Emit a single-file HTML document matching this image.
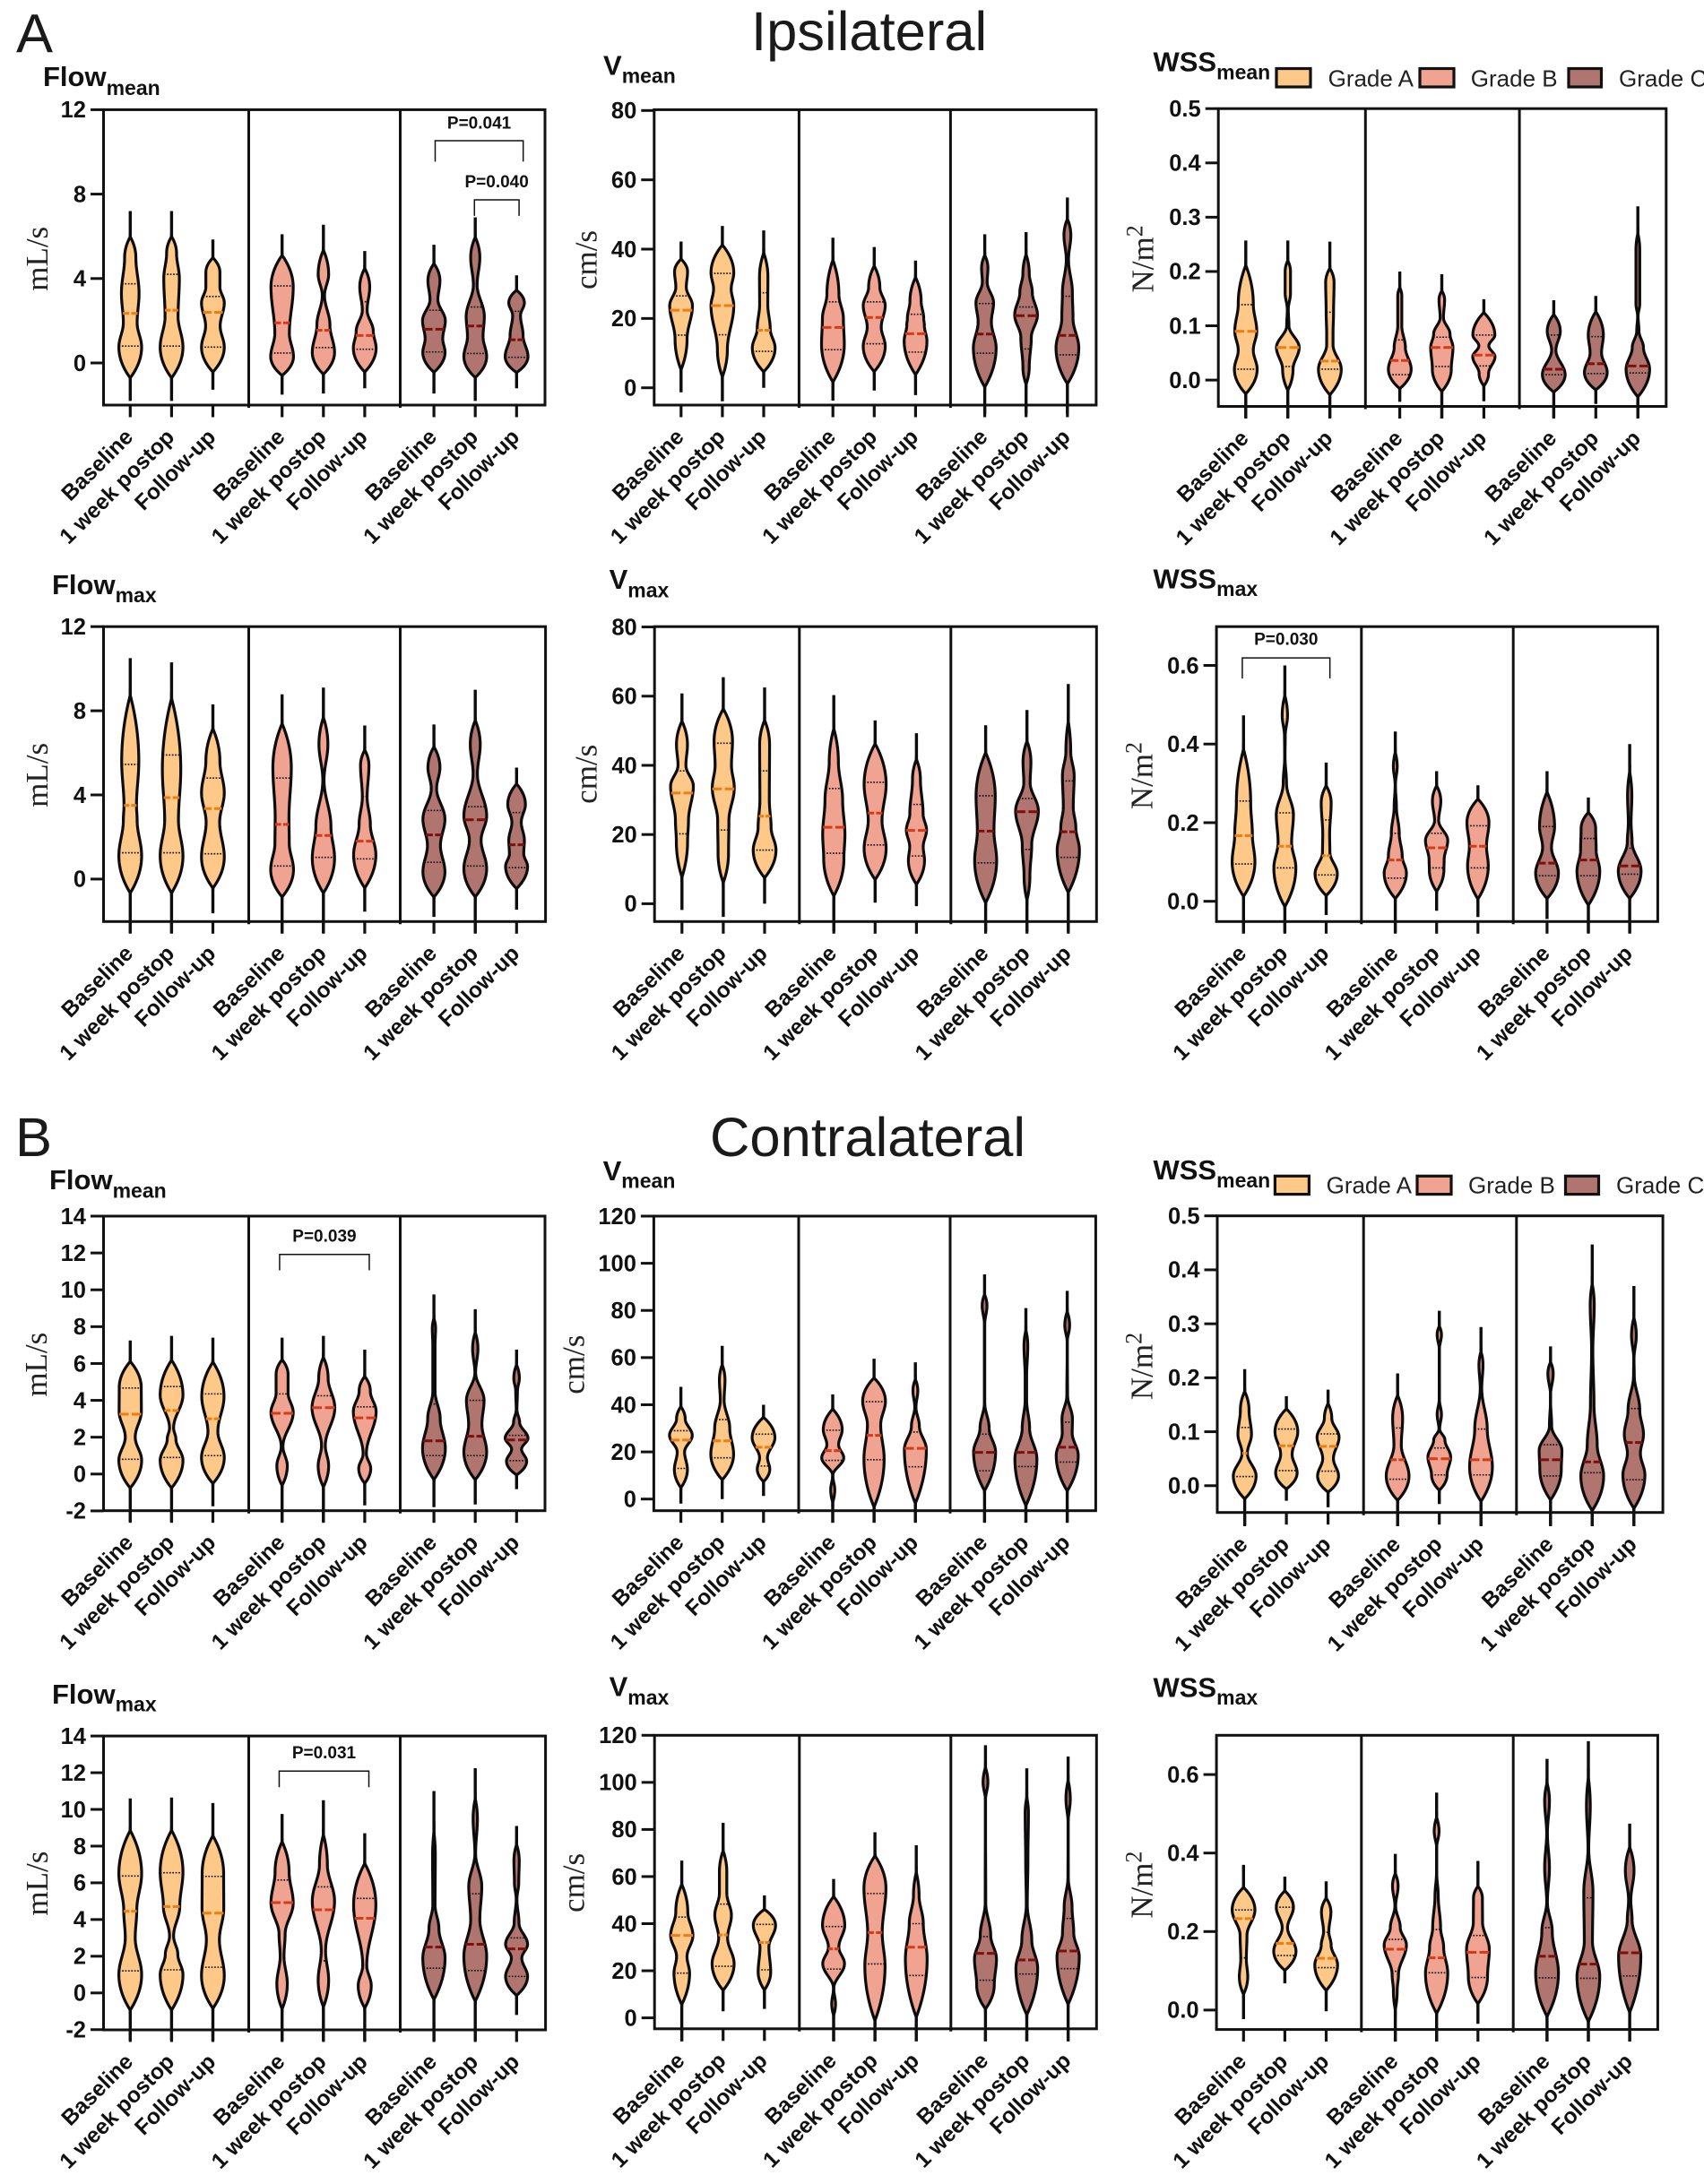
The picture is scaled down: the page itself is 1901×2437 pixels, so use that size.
<!DOCTYPE html>
<html lang="en">
<head>
<meta charset="utf-8">
<title>Ipsilateral and contralateral flow, velocity and WSS violin plots</title>
<style>
html,body{margin:0;padding:0;background:#fff;}
svg{display:block;}
text{font-family:"Liberation Sans",Arial,sans-serif;fill:#111;}
.serif{font-family:"Liberation Serif","Times New Roman",serif;font-size:35px;fill:#222;}
.big{font-size:61.5px;fill:#1a1a1a;}
.ttl{font-size:31px;font-weight:bold;}
.sub{font-size:23px;font-weight:bold;}
.leg{font-size:26px;fill:#222;}
</style>
</head>
<body>
<svg id="fig" width="1901" height="2437" viewBox="0 0 1901 2437" xmlns="http://www.w3.org/2000/svg">
<rect x="0" y="0" width="1901" height="2437" fill="#fff"/>
<text class="big" x="18" y="58.4">A</text>
<text class="big" x="838" y="56">Ipsilateral</text>
<text class="big" x="17" y="1290">B</text>
<text class="big" x="792" y="1290">Contralateral</text>

<text class="ttl" x="48" y="96">Flow<tspan class="sub" dy="10">mean</tspan></text>
<text class="ttl" x="673" y="83.7">V<tspan class="sub" dy="9">mean</tspan></text>
<text class="ttl" x="1286.5" y="79.6">WSS<tspan class="sub" dy="9">mean</tspan></text>
<text class="ttl" x="58" y="662.9">Flow<tspan class="sub" dy="9">max</tspan></text>
<text class="ttl" x="679.6" y="657.1">V<tspan class="sub" dy="9.6">max</tspan></text>
<text class="ttl" x="1286.5" y="656.4">WSS<tspan class="sub" dy="8.8">max</tspan></text>
<text class="ttl" x="55" y="1326.8">Flow<tspan class="sub" dy="9.6">mean</tspan></text>
<text class="ttl" x="672.6" y="1317.2">V<tspan class="sub" dy="8.5">mean</tspan></text>
<text class="ttl" x="1286.5" y="1316.1">WSS<tspan class="sub" dy="8.8">mean</tspan></text>
<text class="ttl" x="58" y="1900.9">Flow<tspan class="sub" dy="8.8">max</tspan></text>
<text class="ttl" x="679.6" y="1892.6">V<tspan class="sub" dy="9.5">max</tspan></text>
<text class="ttl" x="1286.5" y="1893.3">WSS<tspan class="sub" dy="8.8">max</tspan></text>

<text class="serif" text-anchor="middle" transform="translate(53 288.8) rotate(-90)">mL/s</text>
<text class="serif" text-anchor="middle" transform="translate(665.7 290) rotate(-90)">cm/s</text>
<text class="serif" transform="translate(1286.5 326.5) rotate(-90)">N/m<tspan font-size="26" dy="-12">2</tspan></text>
<text class="serif" text-anchor="middle" transform="translate(53 864.9) rotate(-90)">mL/s</text>
<text class="serif" text-anchor="middle" transform="translate(665.7 863.8) rotate(-90)">cm/s</text>
<text class="serif" transform="translate(1285.3 903.2) rotate(-90)">N/m<tspan font-size="26" dy="-12">2</tspan></text>
<text class="serif" text-anchor="middle" transform="translate(52 1522.7) rotate(-90)">mL/s</text>
<text class="serif" text-anchor="middle" transform="translate(651.4 1522.7) rotate(-90)">cm/s</text>
<text class="serif" transform="translate(1285.7 1562.1) rotate(-90)">N/m<tspan font-size="26" dy="-12">2</tspan></text>
<text class="serif" text-anchor="middle" transform="translate(53 2101.6) rotate(-90)">mL/s</text>
<text class="serif" text-anchor="middle" transform="translate(651.4 2100.9) rotate(-90)">cm/s</text>
<text class="serif" transform="translate(1285.7 2140.8) rotate(-90)">N/m<tspan font-size="26" dy="-12">2</tspan></text>

<g>
<rect x="1424" y="76.5" width="38" height="20.5" fill="#fdc888" stroke="#111" stroke-width="3.2"/>
<text class="leg" x="1481.6" y="96.3">Grade A</text>
<rect x="1584" y="76.5" width="38" height="20.5" fill="#f0a390" stroke="#111" stroke-width="3.2"/>
<text class="leg" x="1640.8" y="96.3">Grade B</text>
<rect x="1750" y="76.5" width="36.5" height="20.5" fill="#b17570" stroke="#111" stroke-width="3.2"/>
<text class="leg" x="1806" y="96.3">Grade C</text>
</g>
<g>
<rect x="1422.4" y="1312.3" width="38" height="20.3" fill="#fdc888" stroke="#111" stroke-width="3.2"/>
<text class="leg" x="1479.6" y="1331.4">Grade A</text>
<rect x="1581" y="1312.3" width="38" height="20.3" fill="#f0a390" stroke="#111" stroke-width="3.2"/>
<text class="leg" x="1638" y="1331.4">Grade B</text>
<rect x="1746.5" y="1312.3" width="37" height="20.3" fill="#b17570" stroke="#111" stroke-width="3.2"/>
<text class="leg" x="1803" y="1331.4">Grade C</text>
</g>
</svg>

<script>
// Shared categories and axis tick labels
const timepoints = ['Baseline', '1 week postop', 'Follow-up'];
const gradeFills = ['#fdc888', '#f0a390', '#b17570'];
const gradeMedians = ['#f07d10', '#d63b17', '#7d0f0f'];
const flowTicksIpsi = ['0', '4', '8', '12'];
const velocityTicksIpsi = ['0', '20', '40', '60', '80'];
const wssMeanTicks = ['0.0', '0.1', '0.2', '0.3', '0.4', '0.5'];
const wssMaxTicks = ['0.0', '0.2', '0.4', '0.6'];
const flowTicksContra = ['-2', '0', '2', '4', '6', '8', '10', '12', '14'];
const velocityTicksContra = ['0', '20', '40', '60', '80', '100', '120'];

// Each panel: nine violins (3 grades x 3 timepoints). Shape = [value, relative density] knots.
const ipsiFlowMeanLow = [-1.8, -1.8, -1.27, -1.5, -1.45, -1.2, -1.45, -1.8, -1.2];
const ipsiFlowMeanHigh = [7.2, 7.2, 5.85, 6.1, 6.55, 5.3, 5.6, 6.9, 4.15];
const ipsiFlowMeanQ1 = [0.8, 0.8, 0.75, 0.47, 0.73, 0.65, 0.52, 0.45, 0.27];
const ipsiFlowMeanMedian = [2.35, 2.5, 2.4, 1.9, 1.55, 1.3, 1.6, 1.75, 1.1];
const ipsiFlowMeanQ3 = [3.75, 4.2, 3.15, 3.65, 3.35, 2.9, 2.5, 2.65, 2.45];
const ipsiFlowMeanShape = [
 [[-.8,0],[.75,1],[1.9,.65],[3.3,.8],[5,.55],[6.1,0]],
 [[-.8,0],[.75,1],[2.2,.62],[4,.72],[5.2,.5],[6.1,0]],
 [[-.5,0],[.75,1],[1.75,.68],[2.85,1],[3.6,.66],[4.3,.66],[5.05,0]],
 [[-.65,0],[.3,1],[1.4,.68],[3.6,.98],[5.2,0]],
 [[-.6,0],[.5,.98],[1.8,.62],[3.2,.2],[4.2,.52],[5.5,0]],
 [[-.5,0],[.7,1],[1.5,.78],[2.5,.3],[3.6,.5],[4.6,0]],
 [[-.5,0],[.5,.98],[1.15,.8],[2,1],[3,.42],[3.9,.58],[4.8,0]],
 [[-.75,0],[.3,1],[1.25,.72],[2.2,.82],[3.7,.26],[5,.47],[6.1,0]],
 [[-.5,0],[.3,1],[1.3,.62],[2.25,.42],[2.85,.72],[3.5,0]]
];

const ipsiVMeanLow = [-1.3, -3.9, 0, -3.7, -0.8, -2.1, -7.5, -7.5, -7.5];
const ipsiVMeanHigh = [42.2, 46.7, 45.4, 43.3, 40.6, 36.7, 44.3, 44.9, 54.9];
const ipsiVMeanQ1 = [15.2, 15.3, 10.5, 11, 12.7, 10.3, 10, 11.2, 9.5];
const ipsiVMeanMedian = [22.4, 23.7, 16.6, 17.4, 20.3, 15.6, 15.5, 20.8, 15.1];
const ipsiVMeanQ3 = [26.5, 33, 27.4, 24.8, 24.8, 21.2, 24.3, 23.3, 26.4];
const ipsiVMeanShape = [
 [[4.2,0],[14,.58],[23.7,1],[29,.52],[33.5,.62],[37.5,0]],
 [[2.1,0],[11,.5],[23.7,1],[28.5,.8],[33.2,1],[41.7,0]],
 [[4.2,0],[11.5,1],[17,.62],[24,.43],[32,.44],[40,0]],
 [[1,0],[12.5,1],[20,.93],[27,.58],[38,0]],
 [[4.2,0],[12,.97],[17.5,.66],[23.7,.97],[29,.55],[35.9,0]],
 [[3.2,0],[13.5,1],[18,.8],[20,.75],[25,.55],[32.7,0]],
 [[-.5,0],[11.5,1],[19,.63],[24.5,.8],[30.5,.3],[34.5,.36],[39,0]],
 [[0,0],[6,.36],[14.5,.52],[21,1],[27.5,.6],[33,.36],[39.6,0]],
 [[.5,0],[11.5,1],[20,.55],[27.5,.5],[37,.2],[44,.38],[49.6,0]]
];

const ipsiWssMeanLow = [-0.07, -0.07, -0.07, -0.04, -0.07, -0.039, -0.07, -0.044, -0.07];
const ipsiWssMeanHigh = [0.257, 0.257, 0.255, 0.2, 0.195, 0.149, 0.147, 0.155, 0.32];
const ipsiWssMeanQ1 = [0.02, 0.025, 0.02, 0.01, 0.025, 0.026, 0.01, 0.012, 0.013];
const ipsiWssMeanMedian = [0.09, 0.06, 0.035, 0.036, 0.06, 0.046, 0.02, 0.03, 0.026];
const ipsiWssMeanQ3 = [0.139, 0.13, 0.125, 0.074, 0.079, 0.083, 0.083, 0.08, 0.09];
const ipsiWssMeanShape = [
 [[-.028,0],[.02,1],[.055,.7],[.09,.97],[.14,.7],[.218,0]],
 [[-.024,0],[.02,.52],[.06,1],[.1,.2],[.13,.15],[.16,.32],[.2,.32],[.225,0]],
 [[-.03,0],[.02,1],[.065,.36],[.085,.36],[.125,.4],[.18,.44],[.21,0]],
 [[-.018,0],[.02,1],[.06,.55],[.1,.27],[.155,.27],[.175,0]],
 [[-.024,0],[.02,.85],[.06,.98],[.085,.75],[.115,.24],[.148,.33],[.168,0]],
 [[-.014,0],[.012,.48],[.043,.98],[.063,.5],[.083,.97],[.127,0]],
 [[-.024,0],[.01,1],[.055,.28],[.09,.62],[.124,0]],
 [[-.02,0],[.014,1],[.05,.56],[.083,.7],[.13,0]],
 [[-.034,0],[.02,1.03],[.06,.55],[.09,.2],[.118,.13],[.14,.26],[.24,.26],[.28,0]]
];

const ipsiFlowMaxLow = [-2.56, -2.56, -1.63, -2.56, -2.56, -1.55, -1.8, -2.56, -1.45];
const ipsiFlowMaxHigh = [10.5, 10.3, 8.3, 8.78, 9.1, 7.3, 7.35, 9, 5.3];
const ipsiFlowMaxQ1 = [1.25, 1.25, 1.2, 0.62, 1.03, 0.96, 0.8, 0.62, 0.54];
const ipsiFlowMaxMedian = [3.5, 3.87, 3.35, 2.6, 2.07, 1.8, 2.1, 2.82, 1.63];
const ipsiFlowMaxQ3 = [5.45, 5.9, 4.8, 4.8, 4.78, 3.93, 3.26, 3.44, 3.16];
const ipsiFlowMaxShape = [
 [[-.77,0],[1.1,1],[2.8,.65],[3.5,.6],[5.6,.78],[9,0]],
 [[-.77,0],[1.1,1],[2.8,.65],[5.2,.83],[8.85,0]],
 [[-.52,0],[1.05,1],[2.7,.64],[4.1,1],[5.6,.66],[7.3,0]],
 [[-.93,0],[.45,1],[1.7,.67],[2.9,.65],[5.3,.83],[7.55,0]],
 [[-.77,0],[1,.98],[2.5,.7],[4.7,.16],[6.4,.46],[7.88,0]],
 [[-.52,0],[1.15,.98],[2.6,.55],[3.9,.3],[5.4,.44],[6.25,0]],
 [[-.93,0],[.35,.97],[1.6,.62],[2.85,.97],[4.3,.32],[5.3,.58],[6.4,0]],
 [[-.93,0],[.5,1],[1.85,.57],[3,1],[5,.28],[6.4,.5],[7.7,0]],
 [[-.52,0],[.6,.97],[1.2,.67],[1.85,.72],[2.7,.48],[3.55,.8],[4.6,0]]
];

const ipsiVMaxLow = [-1.8, -3.8, 0, -8, 0.3, -0.7, -8, -8, -8];
const ipsiVMaxHigh = [60.8, 65.5, 62.5, 60.3, 53, 49.3, 51.6, 56, 63.5];
const ipsiVMaxQ1 = [20.2, 21.3, 15.5, 14.6, 17, 13.8, 11.8, 15.7, 13.4];
const ipsiVMaxMedian = [32, 33.2, 25.3, 22.1, 26.2, 21.2, 21, 26.6, 20.8];
const ipsiVMaxQ3 = [38.4, 46.4, 38.4, 33.3, 35.1, 28.7, 31.2, 30.4, 35.5];
const ipsiVMaxShape = [
 [[6.4,0],[18,.55],[24,.62],[34,1],[40,.42],[46,.54],[53.6,0]],
 [[5,0],[14.5,.52],[24,.55],[33.5,.97],[40,.75],[47,.83],[57,0]],
 [[7,0],[15.5,1],[22,.62],[30,.48],[46,.5],[54,0]],
 [[1.5,0],[13,.9],[20,.98],[30,.8],[41,.47],[52,0]],
 [[6.4,0],[16,.97],[24,.65],[34.5,.97],[47,0]],
 [[5,0],[12.5,.74],[16.5,.64],[21.3,.9],[26,.63],[36,.42],[42.7,0]],
 [[-.5,0],[12.5,.97],[21,.76],[31,.86],[44.6,0]],
 [[-.5,0],[8,.34],[17,.48],[26.8,1],[35,.36],[41,.42],[48,0]],
 [[2.5,0],[15.5,.98],[22,.7],[28,.5],[37,.57],[44,.3],[55,0]]
];

const ipsiWssMaxLow = [-0.08, -0.08, -0.035, -0.08, -0.024, -0.04, -0.045, -0.08, -0.08];
const ipsiWssMaxHigh = [0.473, 0.6, 0.353, 0.432, 0.331, 0.295, 0.331, 0.264, 0.4];
const ipsiWssMaxQ1 = [0.095, 0.085, 0.067, 0.059, 0.085, 0.085, 0.065, 0.065, 0.069];
const ipsiWssMaxMedian = [0.167, 0.14, 0.116, 0.105, 0.136, 0.14, 0.097, 0.105, 0.09];
const ipsiWssMaxQ3 = [0.255, 0.225, 0.207, 0.173, 0.173, 0.192, 0.19, 0.16, 0.135];
const ipsiWssMaxShape = [
 [[.007,0],[.1,1],[.17,.8],[.25,.67],[.4,0]],
 [[-.02,0],[.085,.97],[.15,.64],[.22,.78],[.3,.24],[.37,.12],[.42,.14],[.473,.32],[.535,0]],
 [[.011,0],[.07,.98],[.125,.4],[.17,.38],[.25,.5],[.3,0]],
 [[.003,0],[.072,.98],[.115,.65],[.173,.42],[.24,.2],[.295,.12],[.343,.26],[.39,0]],
 [[.02,0],[.08,.68],[.105,.7],[.155,.98],[.205,.27],[.255,.44],[.3,0]],
 [[0,0],[.09,.92],[.14,.78],[.2,.97],[.264,0]],
 [[.003,0],[.072,1],[.137,.46],[.19,.7],[.286,0]],
 [[-.015,0],[.077,1],[.13,.72],[.185,.68],[.23,0]],
 [[.003,0],[.077,1],[.15,.3],[.2,.22],[.268,.28],[.347,0]]
];

const contraFlowMeanLow = [-2.6, -2.6, -1.75, -2.6, -2.6, -1.7, -1.8, -1.65, -0.82];
const contraFlowMeanHigh = [7.25, 7.5, 7.4, 7.4, 7.5, 6.75, 9.75, 8.95, 6.75];
const contraFlowMeanQ1 = [0.8, 0.9, 1, 1.45, 1.45, 1, 1, 1, 0.73];
const contraFlowMeanMedian = [3.25, 3.45, 3, 3.3, 3.6, 3.05, 1.8, 2.05, 1.85];
const contraFlowMeanQ3 = [4.67, 4.75, 4.35, 4.35, 4.25, 3.65, 3.8, 4, 2.1];
const contraFlowMeanShape = [
 [[-.85,0],[.75,1],[2,.5],[3.4,.98],[4.7,.97],[6.2,0]],
 [[-.85,0],[.75,1],[1.9,.45],[2.5,.27],[4.3,1],[6.3,0]],
 [[-.6,0],[.9,1],[2.3,.5],[4.2,.98],[6.2,0]],
 [[-.76,0],[.45,.52],[1.5,.18],[3.35,.98],[4.4,.58],[5.4,.58],[6.3,0]],
 [[-.85,0],[.45,.52],[1.55,.26],[3.6,1],[5.2,.48],[6.5,0]],
 [[-.6,0],[.3,.58],[1.1,.24],[3.4,1],[4.5,.55],[5.4,0]],
 [[-.4,0],[1.4,1],[3,.6],[4.5,.2],[7,.2],[7.9,.24],[8.65,0]],
 [[-.4,0],[1.2,1],[2.7,.63],[4,.8],[5.5,.14],[6.8,.32],[7.9,0]],
 [[-.1,0],[.7,.9],[1.35,.5],[1.95,1],[2.8,.35],[3.5,.14],[4.5,.18],[5.2,.33],[6.1,0]]
];

const contraVMeanLow = [-1.9, 0, 1.3, -10, -10, -10, -10, -10, -10];
const contraVMeanHigh = [47.6, 65, 40, 44.4, 59.5, 58, 95.3, 81, 88.3];
const contraVMeanQ1 = [13, 17.5, 14, 16.4, 16.7, 13.7, 12, 13.8, 15.7];
const contraVMeanMedian = [25, 24.7, 22, 20.5, 27, 21.5, 19.8, 19.8, 22];
const contraVMeanQ3 = [29, 33.7, 27.5, 29.2, 41.3, 28.4, 27.5, 36.6, 32.6];
const contraVMeanShape = [
 [[4,0],[12.5,.62],[20,.4],[27,1],[34,.45],[40,0]],
 [[7.5,0],[19,1],[30,.7],[42,.26],[50.5,.33],[58.5,0]],
 [[6.8,0],[12.7,.6],[17.5,.42],[26,1],[35.2,0]],
 [[-3,0],[4,.27],[10,.12],[17.5,.97],[23,.57],[29.4,.85],[38.8,0]],
 [[-4.8,0],[17,.9],[31.5,.63],[41.5,1],[52,0]],
 [[-3.3,0],[21,.97],[31,.42],[39,.16],[46,.3],[52,0]],
 [[2.5,0],[20,.97],[30,.47],[41,.12],[74,.12],[82,.3],[88,0]],
 [[-4,0],[17,.97],[30,.4],[42,.17],[52,.17],[65,.26],[73.7,0]],
 [[2.5,0],[18.5,.97],[28,.5],[34,.52],[44,.14],[66,.1],[73.7,.3],[81,0]]
];

const contraWssMeanLow = [-0.075, -0.028, -0.04, -0.075, -0.034, -0.075, -0.075, -0.075, -0.075];
const contraWssMeanHigh = [0.216, 0.166, 0.178, 0.208, 0.324, 0.294, 0.258, 0.447, 0.37];
const contraWssMeanQ1 = [0.017, 0.028, 0.027, 0.012, 0.02, 0.02, 0.018, 0.024, 0.011];
const contraWssMeanMedian = [0.06, 0.074, 0.073, 0.048, 0.05, 0.048, 0.048, 0.044, 0.08];
const contraWssMeanQ3 = [0.108, 0.105, 0.096, 0.107, 0.07, 0.105, 0.076, 0.154, 0.143];
const contraWssMeanShape = [
 [[-.027,0],[.018,1],[.06,.32],[.095,.64],[.14,.45],[.18,0]],
 [[-.008,0],[.024,.95],[.058,.56],[.1,1],[.145,0]],
 [[-.014,0],[.018,.93],[.05,.53],[.09,.97],[.125,.4],[.157,0]],
 [[-.03,0],[.018,1],[.075,.4],[.125,.5],[.173,0]],
 [[-.011,0],[.02,.72],[.053,1],[.085,.55],[.105,.14],[.132,.28],[.16,.12],[.25,.1],[.28,.28],[.3,0]],
 [[-.033,0],[.035,1],[.105,.6],[.18,.17],[.224,.27],[.256,0]],
 [[-.03,0],[.03,.95],[.065,1],[.11,.2],[.165,.1],[.208,.32],[.234,0]],
 [[-.05,0],[.018,1],[.075,.5],[.15,.25],[.25,.16],[.335,.27],[.386,0]],
 [[-.046,0],[.02,.97],[.06,.62],[.095,.86],[.14,.57],[.205,.14],[.235,.12],[.278,.3],[.32,0]]
];

const contraFlowMaxLow = [-2.6, -2.6, -2.6, -2.6, -2.6, -2.6, -2.6, -2.6, -1.2];
const contraFlowMaxHigh = [10.6, 10.65, 10.35, 9.75, 10.5, 8.7, 11, 12.25, 9.1];
const contraFlowMaxQ1 = [1.2, 1.26, 1.4, 1.8, 1.75, 1.35, 1.35, 1.22, 0.9];
const contraFlowMaxMedian = [4.45, 4.7, 4.35, 4.92, 4.53, 4.07, 2.5, 2.65, 2.4];
const contraFlowMaxQ3 = [6.37, 6.55, 6.35, 6.15, 5.78, 5.15, 4.8, 5.4, 3];
const contraFlowMaxShape = [
 [[-1.05,0],[1,1],[3,.5],[4.5,.62],[6.5,1],[9,0]],
 [[-1.05,0],[1,1],[2.1,.6],[3.1,.27],[4.7,.75],[6.6,1],[9,0]],
 [[-.95,0],[.95,1],[2.9,.62],[4.6,.96],[6.5,.95],[8.7,0]],
 [[-1.05,0],[.5,.52],[2,.26],[3.2,.35],[4.9,.98],[6.6,.66],[8.4,0]],
 [[-.95,0],[.7,.52],[2.3,.28],[5,.98],[7,.42],[8.9,0]],
 [[-.95,0],[.4,.62],[1.5,.27],[4.8,.98],[7.2,0]],
 [[-.5,0],[1.9,.98],[3.5,.5],[4.8,.2],[7.5,.22],[9.3,0]],
 [[-.6,0],[2,1],[4,.47],[5.8,.62],[7.6,.14],[9.5,.28],[10.9,0]],
 [[-.2,0],[.9,.97],[1.9,.52],[2.65,.97],[3.8,.3],[5.1,.14],[6,.28],[7.2,.32],[8.3,0]]
];

const contraVMaxLow = [-10, 2.8, 3.8, -10, -10, -10, -10, -10, -10];
const contraVMaxHigh = [66.8, 82.8, 52, 59, 78.8, 73.3, 115.8, 106, 111];
const contraVMaxQ1 = [19, 21.9, 20.4, 20.7, 22.9, 18, 16, 18.6, 20.9];
const contraVMaxMedian = [35, 35.2, 32, 29.3, 36.2, 30, 27.4, 24.6, 28.4];
const contraVMaxQ3 = [42.8, 48.3, 39.7, 38.8, 52.8, 40, 34.5, 48.7, 42.2];
const contraVMaxShape = [
 [[4.5,0],[19,.72],[26,.52],[35,.98],[45,.58],[58,0]],
 [[11,0],[23,.97],[34,.46],[43.6,.76],[53,.4],[62,.4],[72.6,0]],
 [[11,0],[19.5,.6],[30,.46],[39.3,.98],[46.5,0]],
 [[-.5,0],[6,.26],[12.5,.12],[23,.96],[30,.52],[39.3,.98],[52.3,0]],
 [[-2.8,0],[22,.9],[36,.68],[55,.97],[69.7,0]],
 [[-1.3,0],[25,.96],[40,.66],[52,.33],[64,0]],
 [[3,0],[14,.8],[25,.97],[35,.52],[49,.13],[92,.1],[100,.3],[108,0]],
 [[0,0],[21,.96],[33,.5],[48,.15],[67,.2],[87,.24],[96,0]],
 [[4.5,0],[26,.98],[36,.55],[47,.42],[60,.12],[82,.1],[93,.28],[103,0]]
];

const contraWssMaxLow = [-0.023, 0.068, -0.003, -0.08, -0.08, -0.035, -0.08, -0.08, -0.08];
const contraWssMaxHigh = [0.37, 0.34, 0.328, 0.398, 0.554, 0.38, 0.64, 0.685, 0.475];
const contraWssMaxQ1 = [0.133, 0.139, 0.108, 0.099, 0.095, 0.083, 0.082, 0.081, 0.087];
const contraWssMaxMedian = [0.233, 0.17, 0.132, 0.155, 0.133, 0.147, 0.137, 0.117, 0.146];
const contraWssMaxQ3 = [0.255, 0.262, 0.198, 0.18, 0.205, 0.19, 0.21, 0.286, 0.243];
const contraWssMaxShape = [
 [[.033,0],[.085,.44],[.13,.33],[.19,.38],[.255,1],[.316,0]],
 [[.098,0],[.15,.98],[.21,.32],[.262,.78],[.307,0]],
 [[.046,0],[.115,1],[.165,.5],[.2,.32],[.25,.48],[.29,0]],
 [[-.015,0],[.05,.26],[.09,.36],[.166,.98],[.21,.5],[.265,.14],[.316,.33],[.355,0]],
 [[-.015,0],[.094,.98],[.16,.66],[.21,.42],[.29,.24],[.35,.12],[.41,.1],[.455,.3],[.5,0]],
 [[.011,0],[.085,.86],[.155,1],[.224,.47],[.285,.46],[.32,0]],
 [[-.023,0],[.094,1],[.2,.52],[.275,.14],[.363,.3],[.45,.14],[.533,.3],[.59,0]],
 [[-.036,0],[.085,1],[.175,.43],[.3,.47],[.41,.14],[.52,.26],[.615,0]],
 [[-.015,0],[.137,.98],[.23,.3],[.28,.2],[.355,.45],[.424,0]]
];

// Significance brackets: category position (0-8), value level, tip value, label value
const ipsiFlowMeanBrackets = [
 {from: 6.03, to: 8.16, level: 10.53, tip: 9.54, labelAt: 11.1, text: 'P=0.041'},
 {from: 6.98, to: 8.06, level: 7.73, tip: 6.97, labelAt: 8.32, text: 'P=0.040'}
];
const ipsiWssMaxBrackets = [
 {from: -0.03, to: 2.09, level: 0.619, tip: 0.567, labelAt: 0.6526, text: 'P=0.030'}
];
const contraFlowMeanBrackets = [
 {from: 2.94, to: 5.11, level: 11.92, tip: 11.06, labelAt: 12.61, text: 'P=0.039'}
];
const contraFlowMaxBrackets = [
 {from: 2.93, to: 5.1, level: 12.09, tip: 11.21, labelAt: 12.79, text: 'P=0.031'}
];

const panels = [
 {low: ipsiFlowMeanLow, high: ipsiFlowMeanHigh, q1: ipsiFlowMeanQ1, med: ipsiFlowMeanMedian, q3: ipsiFlowMeanQ3, shape: ipsiFlowMeanShape, ticks: flowTicksIpsi, brackets: ipsiFlowMeanBrackets,
  L: 115.5, R: 608, T: 122.4, B: 452, zeroY: 405, refV: 12, refY: 122.4, first: 29.8, step: 46.1, groupStep: 169.4, sep1: 162, sep2: 331},
 {low: ipsiVMeanLow, high: ipsiVMeanHigh, q1: ipsiVMeanQ1, med: ipsiVMeanMedian, q3: ipsiVMeanQ3, shape: ipsiVMeanShape, ticks: velocityTicksIpsi, brackets: [],
  L: 729.8, R: 1222.9, T: 122.4, B: 452, zeroY: 432.7, refV: 80, refY: 123.3, first: 30, step: 46.1, groupStep: 169.4, sep1: 161.6, sep2: 330.6},
 {low: ipsiWssMeanLow, high: ipsiWssMeanHigh, q1: ipsiWssMeanQ1, med: ipsiWssMeanMedian, q3: ipsiWssMeanQ3, shape: ipsiWssMeanShape, ticks: wssMeanTicks, brackets: [],
  L: 1359.2, R: 1858.8, T: 121.2, B: 453.5, zeroY: 424.1, refV: 0.5, refY: 121.2, first: 30.6, step: 46.9, groupStep: 171.8, sep1: 164.1, sep2: 335.9},
 {low: ipsiFlowMaxLow, high: ipsiFlowMaxHigh, q1: ipsiFlowMaxQ1, med: ipsiFlowMaxMedian, q3: ipsiFlowMaxQ3, shape: ipsiFlowMaxShape, ticks: flowTicksIpsi, brackets: [],
  L: 115.5, R: 608.6, T: 699.2, B: 1028.3, zeroY: 980.9, refV: 12, refY: 699.2, first: 29.8, step: 46.1, groupStep: 169.4, sep1: 162, sep2: 331},
 {low: ipsiVMaxLow, high: ipsiVMaxHigh, q1: ipsiVMaxQ1, med: ipsiVMaxMedian, q3: ipsiVMaxQ3, shape: ipsiVMaxShape, ticks: velocityTicksIpsi, brackets: [],
  L: 730.2, R: 1223.3, T: 699.2, B: 1028.3, zeroY: 1008.4, refV: 80, refY: 699.6, first: 30.6, step: 46.1, groupStep: 169.4, sep1: 161.6, sep2: 330.6},
 {low: ipsiWssMaxLow, high: ipsiWssMaxHigh, q1: ipsiWssMaxQ1, med: ipsiWssMaxMedian, q3: ipsiWssMaxQ3, shape: ipsiWssMaxShape, ticks: wssMaxTicks, brackets: ipsiWssMaxBrackets,
  L: 1357.1, R: 1849.4, T: 699.2, B: 1028.3, zeroY: 1005.7, refV: 0.6, refY: 742.5, first: 30.2, step: 46.1, groupStep: 169.3, sep1: 161.7, sep2: 331.1},
 {low: contraFlowMeanLow, high: contraFlowMeanHigh, q1: contraFlowMeanQ1, med: contraFlowMeanMedian, q3: contraFlowMeanQ3, shape: contraFlowMeanShape, ticks: flowTicksContra, brackets: contraFlowMeanBrackets,
  L: 115.5, R: 608, T: 1357, B: 1685.7, zeroY: 1644.8, refV: 14, refY: 1357, first: 29.8, step: 46.1, groupStep: 169.4, sep1: 162, sep2: 331},
 {low: contraVMeanLow, high: contraVMeanHigh, q1: contraVMeanQ1, med: contraVMeanMedian, q3: contraVMeanQ3, shape: contraVMeanShape, ticks: velocityTicksContra, brackets: [],
  L: 729.4, R: 1222.4, T: 1357, B: 1685.7, zeroY: 1672.7, refV: 120, refY: 1357, first: 30.2, step: 46.1, groupStep: 169.4, sep1: 161.6, sep2: 330.6},
 {low: contraWssMeanLow, high: contraWssMeanHigh, q1: contraWssMeanQ1, med: contraWssMeanMedian, q3: contraWssMeanQ3, shape: contraWssMeanShape, ticks: wssMeanTicks, brackets: [],
  L: 1358, R: 1855.1, T: 1356.7, B: 1687.7, zeroY: 1657.8, refV: 0.5, refY: 1356.7, first: 30.6, step: 46.5, groupStep: 170.6, sep1: 163.2, sep2: 333.8},
 {low: contraFlowMaxLow, high: contraFlowMaxHigh, q1: contraFlowMaxQ1, med: contraFlowMaxMedian, q3: contraFlowMaxQ3, shape: contraFlowMaxShape, ticks: flowTicksContra, brackets: contraFlowMaxBrackets,
  L: 115.5, R: 608.6, T: 1937.1, B: 2265, zeroY: 2223.8, refV: 14, refY: 1937.1, first: 29.8, step: 46.1, groupStep: 169.4, sep1: 162, sep2: 331},
 {low: contraVMaxLow, high: contraVMaxHigh, q1: contraVMaxQ1, med: contraVMaxMedian, q3: contraVMaxQ3, shape: contraVMaxShape, ticks: velocityTicksContra, brackets: [],
  L: 730.2, R: 1223.3, T: 1936.3, B: 2263.8, zeroY: 2251.6, refV: 120, refY: 1936.3, first: 30.4, step: 46.1, groupStep: 169.4, sep1: 161.6, sep2: 330.6},
 {low: contraWssMaxLow, high: contraWssMaxHigh, q1: contraWssMaxQ1, med: contraWssMaxMedian, q3: contraWssMaxQ3, shape: contraWssMaxShape, ticks: wssMaxTicks, brackets: [],
  L: 1357.1, R: 1849.4, T: 1936.3, B: 2264.6, zeroY: 2242.9, refV: 0.6, refY: 1980.1, first: 30.2, step: 46.1, groupStep: 169.3, sep1: 161.7, sep2: 331.1}
];

const svgNS = 'http://www.w3.org/2000/svg';
const figure = document.getElementById('fig');

function mk(tag, attrs, parent) {
  const el = document.createElementNS(svgNS, tag);
  for (const k in attrs) el.setAttribute(k, attrs[k]);
  parent.appendChild(el);
  return el;
}

// Relative density at a value (smooth between knots; lens-shaped taper into the closing tips)
function densityAt(shape, v) {
  const last = shape.length - 1;
  if (v <= shape[0][0] || v >= shape[last][0]) return 0;
  for (let i = 0; i < last; i++) {
    const a = shape[i], b = shape[i + 1];
    if (v >= a[0] && v <= b[0]) {
      const t = (v - a[0]) / (b[0] - a[0]);
      let s = (1 - Math.cos(Math.PI * t)) / 2;
      if (i === 0) s = 1 - (1 - t) * (1 - t);
      if (i === last - 1) s = t * t;
      return a[1] + (b[1] - a[1]) * s;
    }
  }
  return 0;
}
function halfWidth(shape, v) {
  return Math.max(0, densityAt(shape, v) * 14.3 - 1.6);
}

function drawPanel(p) {
  const yScale = v => p.zeroY + v * (p.refY - p.zeroY) / p.refV;
  const xScale = f => {
    const g = Math.max(0, Math.min(2, Math.floor((f + 0.5) / 3)));
    return p.L + p.first + (f - g * 3) * p.step + g * p.groupStep;
  };

  const group = mk('g', {}, figure);
  
  

  // violins
  for (let i = 0; i < 9; i++) {
    const grade = Math.floor(i / 3);
    const cx = xScale(i);
    const shape = p.shape[i];

    const tail = mk('line', {x1: cx, x2: cx, y1: yScale(p.low[i]), y2: yScale(p.high[i]), stroke: '#0c0c0c', 'stroke-width': 3.4}, group);
    
    

    const lo = shape[0][0], hi = shape[shape.length - 1][0];
    const N = 140;
    const left = [], right = [];
    for (let s = 0; s <= N; s++) {
      const v = lo + (hi - lo) * s / N;
      const hw = halfWidth(shape, v);
      left.push((cx - hw).toFixed(2) + ' ' + yScale(v).toFixed(2));
      right.unshift((cx + hw).toFixed(2) + ' ' + yScale(v).toFixed(2));
    }
    const body = mk('path', {d: 'M' + left.join('L') + 'L' + right.join('L') + 'Z', fill: gradeFills[grade], stroke: '#0c0c0c', 'stroke-width': 3.2, 'stroke-linejoin': 'round'}, group);
    
    

    [p.q1[i], p.q3[i]].forEach(q => {
      const hw = halfWidth(shape, q);
      if (hw < 0.5) return;
      const qLine = mk('line', {x1: cx - hw, x2: cx + hw, y1: yScale(q), y2: yScale(q), stroke: '#111', 'stroke-width': 1.6, 'stroke-dasharray': '1.7 1.7'}, group);
      
      
    });

    const mh = halfWidth(shape, p.med[i]);
    const dash = Math.max(1, mh * 0.86);
    const medLine = mk('line', {x1: cx - mh, x2: cx + mh, y1: yScale(p.med[i]), y2: yScale(p.med[i]), stroke: gradeMedians[grade], 'stroke-width': 3, 'stroke-dasharray': dash + ' ' + (mh * 0.28)}, group);
    
    
  }

  // frame and group separators
  const frame = mk('rect', {x: p.L, y: p.T, width: p.R - p.L, height: p.B - p.T, fill: 'none', stroke: '#111', 'stroke-width': 3}, group);
  
  
  [p.sep1, p.sep2].forEach(off => {
    const sep = mk('line', {x1: p.L + off, x2: p.L + off, y1: p.T, y2: p.B + 3, stroke: '#111', 'stroke-width': 3}, group);
    
    
  });

  // y axis
  p.ticks.forEach(label => {
    const y = yScale(Number(label));
    const tick = mk('line', {x1: p.L - 14.5, x2: p.L, y1: y, y2: y, stroke: '#111', 'stroke-width': 3}, group);
    
    
    const tickLabel = mk('text', {x: p.L - 19.5, y: y + 8.8, 'text-anchor': 'end', 'font-size': 25.5, 'font-weight': 'bold'}, group);
    
    
    tickLabel.textContent = label;
  });

  // x axis
  for (let i = 0; i < 9; i++) {
    const x = xScale(i);
    const tick = mk('line', {x1: x, x2: x, y1: p.B, y2: p.B + 13.5, stroke: '#111', 'stroke-width': 3.2}, group);
    
    
    const ax = x + 4.5, ay = p.B + 37;
    const tickLabel = mk('text', {x: 0, y: 0, transform: 'translate(' + ax + ' ' + ay + ') rotate(-45)', 'text-anchor': 'end', 'font-size': 24.5, 'font-weight': 'bold', fill: '#222'}, group);
    
    
    tickLabel.textContent = timepoints[i % 3];
  }

  // significance brackets
  p.brackets.forEach(b => {
    const x1 = xScale(b.from), x2 = xScale(b.to);
    const yl = yScale(b.level), yt = yScale(b.tip);
    const bracket = mk('path', {d: 'M' + x1 + ' ' + yt + 'V' + yl + 'H' + x2 + 'V' + yt, fill: 'none', stroke: '#111', 'stroke-width': 1.5}, group);
    
    
    const pLabel = mk('text', {x: (x1 + x2) / 2, y: yScale(b.labelAt), 'text-anchor': 'middle', 'font-size': 19, 'font-weight': 'bold'}, group);
    
    
    pLabel.textContent = b.text;
  });
}

panels.forEach(drawPanel);
</script>
</body>
</html>
